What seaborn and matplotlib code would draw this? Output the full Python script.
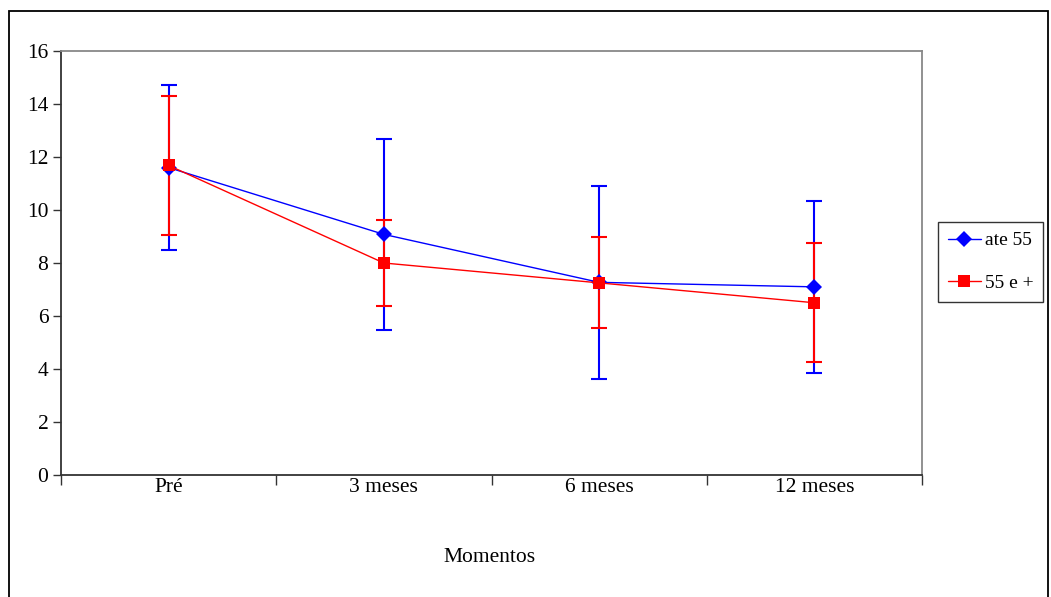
import matplotlib
matplotlib.use("Agg")
import matplotlib.pyplot as plt
from matplotlib.patches import Rectangle
import seaborn as sns
import pandas as pd
import numpy as np

categories = ["Pré", "3 meses", "6 meses", "12 meses"]
ate55_mean = [11.60, 9.08, 7.27, 7.10]
ate55_sd = [3.12, 3.60, 3.65, 3.24]
mais55_mean = [11.68, 8.00, 7.25, 6.50]
mais55_sd = [2.64, 1.64, 1.72, 2.25]
series_labels = ["ate 55", "55 e +"]
y_ticks = [0, 2, 4, 6, 8, 10, 12, 14, 16]

sns.set_theme(style="white")
plt.rcParams["font.family"] = ["Liberation Serif", "DejaVu Serif"]
plt.rcParams["text.color"] = "black"
plt.rcParams["xtick.color"] = "black"
plt.rcParams["ytick.color"] = "black"
plt.rcParams["xtick.labelcolor"] = "black"
plt.rcParams["ytick.labelcolor"] = "black"

fig = plt.figure(figsize=(10.51, 5.97), dpi=100)
ax = fig.add_axes([61/1051, 1-475/597, (922-61)/1051, (475-51)/597])

pos = np.arange(len(categories))
df = pd.DataFrame({
    "pos": np.concatenate([pos, pos]),
    "mean": ate55_mean + mais55_mean,
    "grupo": [series_labels[0]]*4 + [series_labels[1]]*4,
})
colors = {"ate 55": "#0000FF", "55 e +": "#FF0000"}

# error bars
ax.errorbar(pos, ate55_mean, yerr=ate55_sd, fmt="none", ecolor=colors["ate 55"],
            elinewidth=1.5, capsize=5.8, capthick=1.5, zorder=2)
ax.errorbar(pos, mais55_mean, yerr=mais55_sd, fmt="none", ecolor=colors["55 e +"],
            elinewidth=1.5, capsize=5.8, capthick=1.5, zorder=3)

sns.lineplot(data=df[df.grupo == "ate 55"], x="pos", y="mean", color=colors["ate 55"],
             marker="D", markersize=8, markeredgewidth=0, linewidth=1, ax=ax,
             label="ate 55", zorder=4)
sns.lineplot(data=df[df.grupo == "55 e +"], x="pos", y="mean", color=colors["55 e +"],
             marker="s", markersize=8, markeredgewidth=0, linewidth=1, ax=ax,
             label="55 e +", zorder=5)

ax.set_xlim(-0.5, len(categories) - 0.5)
ax.set_ylim(0, 16)
ax.set_yticks(y_ticks)
ax.set_yticklabels([str(t) for t in y_ticks], fontsize=15.5)
ax.set_xticks(np.arange(-0.5, len(categories), 1.0))
ax.set_xticklabels([])
ax.set_xticks(pos, minor=True)
ax.set_xticklabels(categories, minor=True, fontsize=15.5)
ax.tick_params(axis="x", which="major", direction="out", length=7, width=1, color="#333333", bottom=True)
ax.tick_params(axis="x", which="minor", length=0, pad=2)
ax.tick_params(axis="y", direction="out", length=6, width=1, color="#333333", left=True, pad=3)
ax.set_xlabel("")
ax.set_ylabel("")
ax.grid(False)

for s in ["left", "bottom"]:
    ax.spines[s].set_color("#333333")
    ax.spines[s].set_linewidth(1.3)
for s in ["top", "right"]:
    ax.spines[s].set_color("#888888")
    ax.spines[s].set_linewidth(1.3)

fig.text(490/1051, 1-557/597, "Momentos", ha="center", va="center", fontsize=15.5)

leg = ax.legend(loc="upper left", bbox_to_anchor=(938/1051, 1-222/597),
                bbox_transform=fig.transFigure, fontsize=14, frameon=True,
                fancybox=False, edgecolor="black", handlelength=1.7,
                handletextpad=0.2, borderpad=0.5, labelspacing=1.3,
                borderaxespad=0)
leg.get_frame().set_linewidth(1.0)

fig.add_artist(Rectangle((9/1051, -0.02), (1048-9)/1051, (597-11)/597 + 0.02,
                         transform=fig.transFigure, fill=False, edgecolor="black",
                         linewidth=1.3))

fig.savefig("out.png", dpi=100)
